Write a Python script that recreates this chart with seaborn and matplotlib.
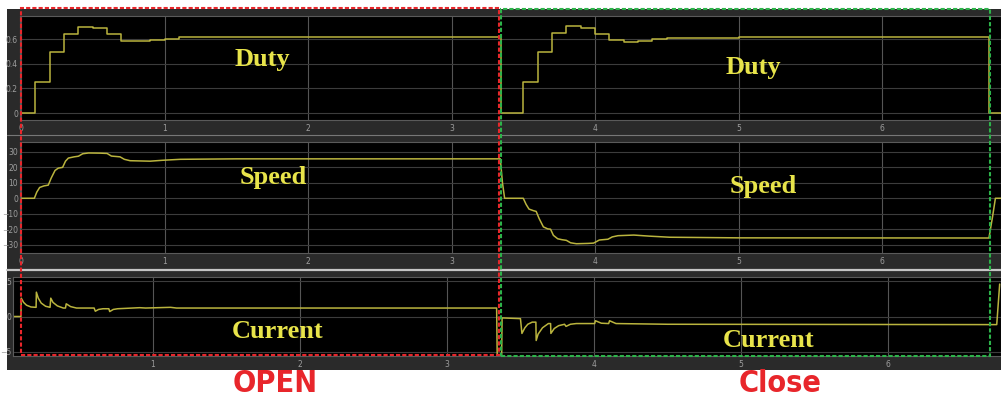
import numpy as np
import pandas as pd
import matplotlib
matplotlib.use("Agg")
import matplotlib.pyplot as plt
import seaborn as sns
from matplotlib.patches import Rectangle
from matplotlib.lines import Line2D

# ---------------- data (time in s) ----------------
duty_open_t = [0.0, 0.10, 0.20, 0.30, 0.40, 0.50, 0.60, 0.70, 0.90, 1.00, 1.10, 1.60, 2.50]
duty_open_v = [0.0, 0.25, 0.50, 0.645, 0.70, 0.69, 0.64, 0.59, 0.595, 0.605, 0.615, 0.62, 0.622]
duty_close_t = [3.345, 3.50, 3.605, 3.70, 3.80, 3.90, 4.00, 4.10, 4.20, 4.30, 4.40, 4.50, 5.0, 6.0, 6.745, 6.83]
duty_close_v = [0.0, 0.25, 0.50, 0.655, 0.705, 0.69, 0.645, 0.595, 0.58, 0.59, 0.60, 0.61, 0.615, 0.622, 0.0, 0.0]

speed_open_t = [0.0, 0.093, 0.11, 0.13, 0.16, 0.19, 0.21, 0.237, 0.26, 0.29, 0.31, 0.33, 0.37,
                0.40, 0.43, 0.47, 0.55, 0.60, 0.63, 0.69, 0.72, 0.76, 0.90, 0.99, 1.11, 1.5, 3.34]
speed_open_v = [0, 0, 4, 7, 8, 8.5, 13, 18, 19.5, 20, 24, 26, 26.8,
                27.2, 28.8, 29.3, 29.2, 29, 27.3, 26.8, 25.2, 24.3, 24, 24.6, 25.2, 25.5, 25.5]
speed_close_t = [3.355, 3.37, 3.50, 3.52, 3.54, 3.57, 3.59, 3.61, 3.64, 3.67, 3.69, 3.71, 3.74,
                 3.77, 3.80, 3.83, 3.87, 3.95, 3.99, 4.03, 4.09, 4.12, 4.16, 4.27, 4.38, 4.52,
                 5.0, 6.745, 6.77, 6.79, 6.83]
speed_close_v = [10, 0, 0, -4, -7, -8, -8.5, -13, -18.5, -19.8, -20, -24, -26.2,
                 -26.8, -27.2, -28.8, -29.4, -29.2, -29, -27, -26.5, -25, -24.2, -23.8, -24.5, -25.2,
                 -25.6, -25.7, -12, 0, 0]

current_open_t = [0.05, 0.102, 0.104, 0.12, 0.14, 0.17, 0.205, 0.207, 0.22, 0.24, 0.27, 0.30,
                  0.305, 0.32, 0.35, 0.39, 0.405, 0.41, 0.44, 0.48, 0.60, 0.608, 0.63, 0.66,
                  0.70, 0.706, 0.73, 0.76, 0.91, 0.95, 1.12, 1.16, 3.338]
current_open_v = [0, 0, 2.6, 2.0, 1.6, 1.35, 1.3, 3.45, 2.6, 1.9, 1.45, 1.3,
                  2.6, 2.0, 1.5, 1.2, 1.2, 1.8, 1.4, 1.2, 1.2, 0.75, 1.0, 1.1,
                  1.1, 0.7, 1.0, 1.1, 1.25, 1.2, 1.3, 1.2, 1.2]
current_close_t = [3.342, 3.372, 3.375, 3.50, 3.51, 3.53, 3.55, 3.58, 3.605, 3.607, 3.62, 3.65,
                   3.69, 3.705, 3.707, 3.73, 3.76, 3.80, 3.81, 3.84, 3.88, 4.005, 4.01, 4.05,
                   4.10, 4.106, 4.15, 4.5, 6.74, 6.76]
current_close_v = [-5.8, -5.8, -0.2, -0.3, -2.4, -1.6, -1.1, -0.8, -0.8, -3.4, -2.5, -1.6,
                   -1.0, -1.0, -2.4, -1.7, -1.3, -1.1, -1.4, -1.1, -1.0, -1.0, -0.6, -0.95,
                   -1.0, -0.6, -1.0, -1.1, -1.15, 4.6]

xticks_top = [0, 1, 2, 3, 4, 5, 6]
xticks_bottom = [1, 2, 3, 4, 5, 6]
duty_yticks = [0, 0.2, 0.4, 0.6]
duty_ylabels = ["0", "0.2", "0.4", "0.6"]
speed_yticks = [-30, -20, -10, 0, 10, 20, 30]
current_yticks = [-5, 0, 5]
row_labels = ["Duty", "Speed", "Current"]
section_labels = ["OPEN", "Close"]

# ---------------- styling ----------------
sns.set_theme(style="dark")
plt.rcParams['font.family'] = ['DejaVu Sans']

TRACE = "#bab43e"
LABEL_Y = "#e8e44a"
RED = "#e8262b"
GREEN = "#2db34a"
BAND = "#2a2a2a"

W, H = 1001, 398
fig = plt.figure(figsize=(W / 100, H / 100), dpi=100, facecolor="white")


def fx(x):
    return x / W


def fy(y):
    return 1 - y / H


fig.patches.append(Rectangle((fx(7), fy(370)), 1 - fx(7), fy(9) - fy(370),
                             transform=fig.transFigure, facecolor=BAND,
                             edgecolor="none", zorder=-10))


def make_ax(x0, y0, x1, y1):
    ax = fig.add_axes([fx(x0), fy(y1), fx(x1) - fx(x0), fy(y0) - fy(y1)])
    ax.set_facecolor("black")
    for s in ax.spines.values():
        s.set_color("#5a5a5a")
        s.set_linewidth(0.8)
    ax.xaxis.grid(True, color="#555555", linewidth=0.8)
    ax.yaxis.grid(True, color="#3c3c3c", linewidth=0.8)
    ax.tick_params(axis="both", which="both", direction="in", length=7, width=0.8,
                   color="#7a7a7a", labelcolor="#9e9e9e", labelsize=5.5)
    ax.tick_params(axis="x", pad=3, length=4)
    ax.tick_params(axis="y", pad=1.5)
    return ax


ax1 = make_ax(20, 16, 1001, 120)
ax2 = make_ax(20, 142, 1001, 253)
ax3 = make_ax(13, 277, 1001, 356)

duty_df = pd.DataFrame({"t": duty_open_t + duty_close_t, "v": duty_open_v + duty_close_v})
speed_df = pd.DataFrame({"t": speed_open_t + speed_close_t, "v": speed_open_v + speed_close_v})
current_df = pd.DataFrame({"t": current_open_t + current_close_t, "v": current_open_v + current_close_v})

sns.lineplot(data=duty_df, x="t", y="v", ax=ax1, color=TRACE, linewidth=1.1,
             estimator=None, sort=False, drawstyle="steps-post")
sns.lineplot(data=speed_df, x="t", y="v", ax=ax2, color=TRACE, linewidth=1.1,
             estimator=None, sort=False)
sns.lineplot(data=current_df, x="t", y="v", ax=ax3, color=TRACE, linewidth=1.1,
             estimator=None, sort=False)

ax1.set_xlim(-0.007, 6.829)
ax1.set_ylim(-0.057, 0.79)
ax1.set_yticks(duty_yticks)
ax1.set_yticklabels(duty_ylabels)
ax1.set_xticks(xticks_top)

ax2.set_xlim(-0.007, 6.829)
ax2.set_ylim(-35.4, 36.4)
ax2.set_yticks(speed_yticks)
ax2.set_xticks(xticks_top)

ax3.set_xlim(0.048, 6.769)
ax3.set_ylim(-5.6, 5.6)
ax3.set_yticks(current_yticks)
ax3.set_xticks(xticks_bottom)

for ax in (ax1, ax2, ax3):
    ax.set_xlabel("")
    ax.set_ylabel("")

# separators between scope panels
fig.lines.append(Line2D([fx(7), 1], [fy(135), fy(135)], transform=fig.transFigure,
                        color="#777777", linewidth=0.8))
fig.lines.append(Line2D([fx(7), 1], [fy(269.5), fy(269.5)], transform=fig.transFigure,
                        color="#c4c4c4", linewidth=1.6))

# row labels
label_pos = {
    "Duty": [(262, 65.7), (753, 74)],
    "Speed": [(273, 184), (763, 192.5)],
    "Current": [(278, 338), (769, 347)],
}
for name in row_labels:
    for (px, py) in label_pos[name]:
        fig.text(fx(px), fy(py), name, ha="center", va="baseline", fontsize=19,
                 fontweight="bold", family=["Liberation Serif", "DejaVu Serif"], color=LABEL_Y)

# dashed section rectangles
fig.patches.append(Rectangle((fx(21), fy(355)), fx(499) - fx(21), fy(7.5) - fy(355),
                             transform=fig.transFigure, facecolor="none", edgecolor=RED,
                             linewidth=1.5, linestyle=(0, (2, 1)), zorder=5))
fig.patches.append(Rectangle((fx(501.5), fy(356)), fx(990) - fx(501.5), fy(9) - fy(356),
                             transform=fig.transFigure, facecolor="none", edgecolor=GREEN,
                             linewidth=1.5, linestyle=(0, (2, 1)), zorder=5))

for name, px in zip(section_labels, [275, 780.5]):
    fig.text(fx(px), fy(397.5), name, ha="center", va="bottom", fontsize=22,
             fontweight="bold", fontstretch="condensed",
             family=["Liberation Sans Narrow", "DejaVu Sans"], color=RED)

fig.savefig("out.png", dpi=100, facecolor="white")
